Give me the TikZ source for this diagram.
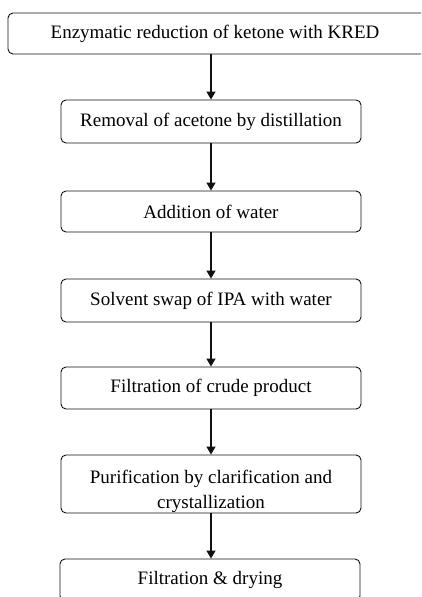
\documentclass[tikz,border=0pt]{standalone}
\usepackage{fontspec}
\setmainfont{Liberation Serif}
\usetikzlibrary{arrows.meta}
\definecolor{flowline}{HTML}{111111}

\tikzset{
  stepbox/.style={draw=flowline, line width=0.9pt, rounded corners=5pt, minimum width=300pt,
    minimum height=42pt, inner sep=0pt, align=center, font=\fontsize{19}{25}\selectfont},
  flowarrow/.style={draw=flowline, line width=1.3pt, -{Triangle[length=8pt,width=9pt]}}
}

\begin{document}
\begin{tikzpicture}[x=1pt,y=-1pt]
\useasboundingbox (0,0) rectangle (421,597);
\clip (0,0) rectangle (421,597);

\node[stepbox, minimum width=426pt, minimum height=41pt] (reduce) at (221,33.5) {Enzymatic reduction of ketone with KRED\hspace*{12pt}};
\node[stepbox, minimum height=43pt] (acetone) at (211,121.5) {Removal of acetone by distillation};
\node[stepbox, minimum height=41pt] (water) at (211,211.5) {Addition of water};
\node[stepbox, minimum height=43pt] (swap) at (211,300.5) {Solvent swap of IPA with water};
\node[stepbox] (crude) at (211,388) {Filtration of crude product};
\node[stepbox, minimum height=58pt] (purify) at (211,484) {\rule{0pt}{28pt}Purification by clarification and\\crystallization};
\node[stepbox] (dry) at (210,580) {Filtration \& drying};

\draw[flowarrow] (reduce.south -| acetone.north) -- (acetone.north);
\draw[flowarrow] (acetone) -- (water);
\draw[flowarrow] (water) -- (swap);
\draw[flowarrow] (swap) -- (crude);
\draw[flowarrow] (crude) -- (purify);
\draw[flowarrow] (purify.south) -- (purify.south |- dry.north);
\end{tikzpicture}
\end{document}
